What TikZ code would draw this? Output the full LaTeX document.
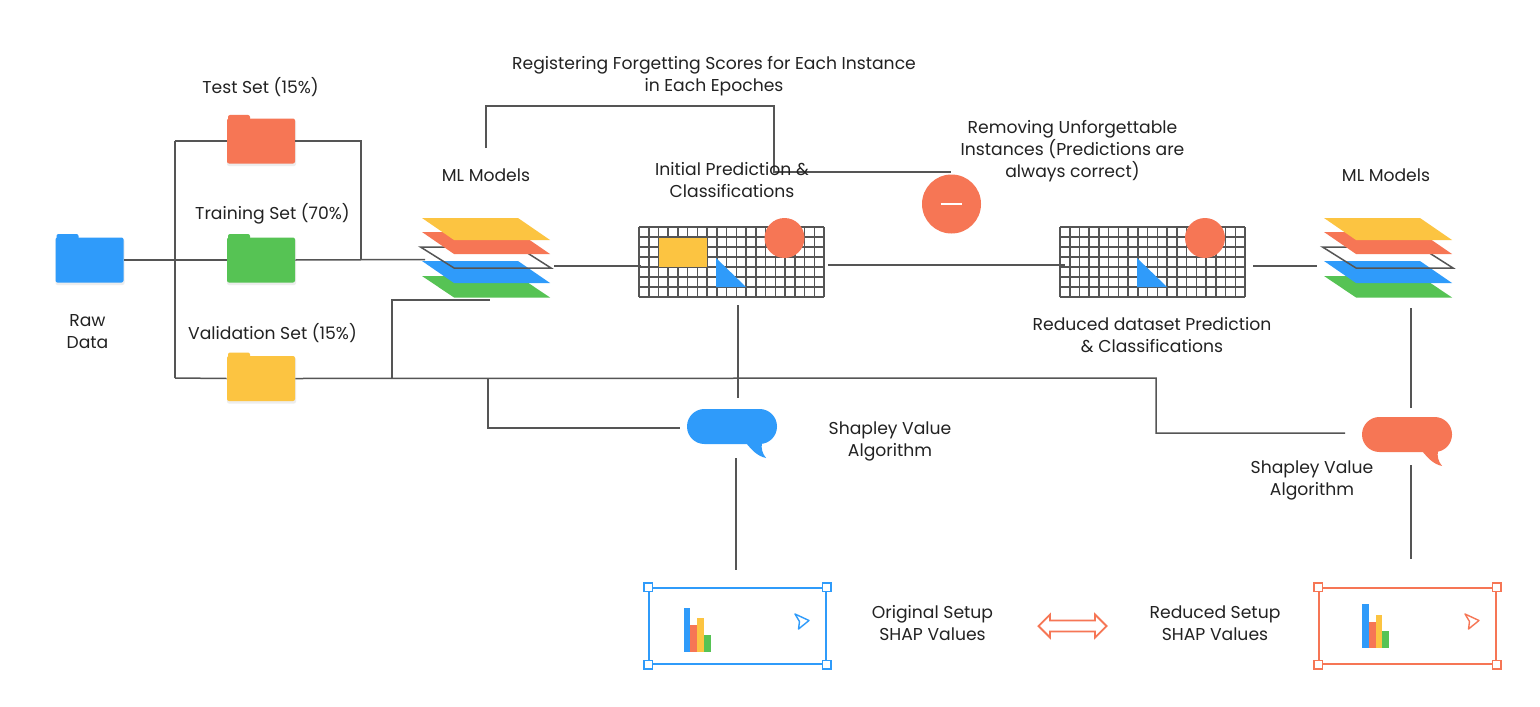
\documentclass[tikz,border=0pt]{standalone}
\usepackage{fontspec}
\setmainfont{Poppins}
\definecolor{cblue}{HTML}{2F9BFA}
\definecolor{cred}{HTML}{F67655}
\definecolor{cyel}{HTML}{FCC441}
\definecolor{cgrn}{HTML}{56C354}
\definecolor{cline}{HTML}{555555}
\definecolor{ctxt}{HTML}{222222}
\newcommand{\folder}[4]{% name, x, y, colour
  \fill[black!7,rounded corners=1pt] (#2-34,#3-21) rectangle (#2+35,#3+25);
  \fill[#4,rounded corners=1pt] (#2-33,#3-26) rectangle (#2-11,#3-10);
  \node[folderbox,fill=#4] (#1) at (#2,#3) {};
}
\newcommand{\mlstack}[2]{% name, x shift
  \begin{scope}[xshift=#2*0.5pt]
  \fill[cgrn] (422,276)--(518,276)--(550,297.5)--(454,297.5)--cycle;
  \fill[cblue] (422,261)--(518,261)--(550,283)--(454,283)--cycle;
  \draw[cline,line width=0.75pt] (420.5,247)--(518,247)--(551,268)--(454,268)--cycle;
  \fill[cred] (422,232)--(518,232)--(550,254)--(454,254)--cycle;
  \fill[cyel] (422,218)--(518,218)--(550,240)--(454,240)--cycle;
  \end{scope}
}
\newcommand{\gridpanel}[1]{% x left
  \foreach \i in {0,...,19} \draw[cline,line width=0.75pt] (#1+\i*9.74,227)--(#1+\i*9.74,297);
  \foreach \j in {0,...,7} \draw[cline,line width=0.75pt] (#1,227+\j*10)--(#1+185,227+\j*10);
}
\newcommand{\shapbox}[3]{% name, x left, colour
  \node[shapbody,draw=#3] (#1) at (#2+88.5,626) {};
  \foreach \a in {north west,north east,south west,south east}
    \node[handle,draw=#3] at (#1.\a) {};
}
\newcommand{\bars}[5]{% x left, tops, base
  \fill[cblue] (#1,#2) rectangle (#1+6.8,#5);
  \fill[cred] (#1+6.8,#3) rectangle (#1+13.6,#5);
  \fill[cyel] (#1+13.6,#4) rectangle (#1+20.4,#5);
}
\newcommand{\cursorsign}[2]{%
  \draw[#2,line width=0.7pt,line join=round] (#1,614)--(#1+14,620.5)--(#1+3.5,629)--(#1+4.5,621.5)--cycle;
}
\tikzset{
  folderbox/.style={rectangle,rounded corners=1pt,minimum width=34pt,minimum height=22.5pt,inner sep=0pt},
  conn/.style={cline,line width=0.75pt},
  lbl/.style={align=center,text=ctxt,font=\fontsize{8.6}{11}\selectfont,inner sep=0pt},
  bubble/.style={rectangle,rounded corners=8.7pt,minimum width=45pt,minimum height=17.5pt,inner sep=0pt},
  shapbody/.style={rectangle,minimum width=88.5pt,minimum height=38pt,inner sep=0pt,line width=0.75pt,fill=white},
  handle/.style={rectangle,minimum size=4.2pt,inner sep=0pt,line width=0.75pt,fill=white},
}
\begin{document}
\begin{tikzpicture}[x=0.5pt,y=-0.5pt]
\useasboundingbox (0,0) rectangle (1540,706);
\fill[white] (0,0) rectangle (1540,706);

% folders
\folder{raw}{89.5}{260}{cblue}
\folder{test}{261}{141}{cred}
\folder{train}{261}{260}{cgrn}
\folder{val}{261}{378.5}{cyel}
\coordinate (split) at (175,260);
\coordinate (splitT) at (175,141);
\coordinate (splitV) at (175,378);
\coordinate (joinT) at (361,141);
\coordinate (joinM) at (361,260);

% model stacks and grids
\mlstack{a}{0}
\mlstack{b}{902}
\gridpanel{639}
\gridpanel{1060}
\node[rectangle,fill=cyel,minimum width=24pt,minimum height=14.5pt,inner sep=0pt] (yrect) at (683,252.5) {};
\node[circle,fill=cred,minimum size=20pt,inner sep=0pt] (dotA) at (784.5,238) {};
\node[circle,fill=cred,minimum size=20pt,inner sep=0pt] (dotB) at (1205,238) {};
\fill[cblue] (716,258)--(716,287)--(746,287)--cycle;
\fill[cblue] (1137,258)--(1137,287)--(1167,287)--cycle;

% minus
\node[circle,fill=cred,minimum size=29.5pt,inner sep=0pt] (minus) at (951.5,204) {};
\draw[white,line width=1pt] (940.5,204)--(961.5,204);

% bubbles
\node[bubble,fill=cblue] (bubA) at (732,426.5) {};
\fill[cblue] (746,443) .. controls (752,450) and (757,456) .. (766,458) .. controls (762,453) and (761,448) .. (762,443) -- cycle;
\node[bubble,fill=cred] (bubB) at (1407,434.5) {};
\fill[cred] (1422,451) .. controls (1428,458) and (1433,464) .. (1442,466) .. controls (1438,461) and (1437,456) .. (1438,451) -- cycle;

% SHAP boxes
\shapbox{shapA}{649}{cblue}
\shapbox{shapB}{1319}{cred}
\bars{683.5}{608}{625}{618}{652}
\fill[cgrn] (703.9,635) rectangle (710.7,652);
\bars{1362}{604}{622}{615}{648}
\fill[cgrn] (1382.4,631) rectangle (1389.2,648);
\cursorsign{795}{cblue}
\cursorsign{1465}{cred}

% double arrow
\node[inner sep=0pt,minimum size=0pt] (arrL) at (1038.5,626) {};
\node[inner sep=0pt,minimum size=0pt] (arrR) at (1106.5,626) {};
\draw[cred,line width=0.9pt,miter limit=4] (arrL.center)--(1050,614.5)--(1050,620.5)--(1095,620.5)--(1095,614.5)--(arrR.center)--(1095,637.5)--(1095,631.5)--(1050,631.5)--(1050,637.5)--cycle;

% free connector ends
\coordinate (mlIn) at (425,259.5);
\coordinate (mlTop) at (486,148);
\coordinate (regA) at (486,106);
\coordinate (regB) at (774,106);
\coordinate (regC) at (774,172);
\coordinate (remEnd) at (951,172);
\coordinate (mlOutA) at (554,266);
\coordinate (gridInA) at (641,266);
\coordinate (gridOutA) at (828,265);
\coordinate (gridInB) at (1065,265);
\coordinate (gridOutB) at (1253,266);
\coordinate (mlInB) at (1317,266);
\coordinate (valUp) at (392,378);
\coordinate (valUpT) at (392,300);
\coordinate (valMl) at (490,300);
\coordinate (valDn) at (488,378);
\coordinate (valDnB) at (488,428);
\coordinate (bubInA) at (680,428);
\coordinate (valFar) at (1156,378);
\coordinate (valFarB) at (1156,433);
\coordinate (bubInB) at (1345,433);
\coordinate (gridDn) at (738,305);
\coordinate (bubTopA) at (738,398);
\coordinate (bubDnA) at (736,458);
\coordinate (shapTopA) at (736,570);
\coordinate (mlDn) at (1411,308);
\coordinate (bubTopB) at (1411,408);
\coordinate (bubDnB) at (1411,465);
\coordinate (shapTopB) at (1411,559);

% connectors
\draw[conn] (raw.east)--(train.west);
\draw[conn] (splitT)--(splitV);
\draw[conn] (splitT)--(test.west);
\draw[conn] (splitV)--(val.west);
\draw[conn] (test.east)--(joinT)--(joinM);
\draw[conn] (train.east)--(mlIn);
\draw[conn] (val.east)--(valFar)--(valFarB)--(bubInB);
\draw[conn] (valUp)--(valUpT)--(valMl);
\draw[conn] (valDn)--(valDnB)--(bubInA);
\draw[conn] (mlTop)--(regA)--(regB)--(regC)--(remEnd);
\draw[conn] (mlOutA)--(gridInA);
\draw[conn] (gridOutA)--(gridInB);
\draw[conn] (gridOutB)--(mlInB);
\draw[conn] (gridDn)--(bubTopA);
\draw[conn] (bubDnA)--(shapTopA);
\draw[conn] (mlDn)--(bubTopB);
\draw[conn] (bubDnB)--(shapTopB);

% labels
\node[lbl] (t1) at (714,76.5) {Registering Forgetting Scores for Each Instance\\in Each Epoches};
\node[lbl] (t2) at (260.5,87) {Test Set (15\%)};
\node[lbl] (t3) at (272.5,214) {Training Set (70\%)};
\node[lbl] (t4) at (272.5,333) {Validation Set (15\%)};
\node[lbl] (t5) at (87.5,331.5) {Raw\\Data};
\node[lbl] (t6) at (486,175) {ML Models};
\node[lbl] (t7) at (1386,175) {ML Models};
\node[lbl] (t8) at (732,180) {Initial Prediction \&\\Classifications};
\node[lbl] (t9) at (1072.5,151.5) {Removing Unforgettable\\Instances (Predictions are\\always correct)};
\node[lbl] (t10) at (1152,335) {Reduced dataset Prediction\\\& Classifications};
\node[lbl] (t11) at (890,441) {Shapley Value\\Algorithm};
\node[lbl] (t12) at (1312,480) {Shapley Value\\Algorithm};
\node[lbl] (t13) at (932.5,623) {Original Setup\\SHAP Values};
\node[lbl] (t14) at (1215,623) {Reduced Setup\\SHAP Values};
\end{tikzpicture}
\end{document}
